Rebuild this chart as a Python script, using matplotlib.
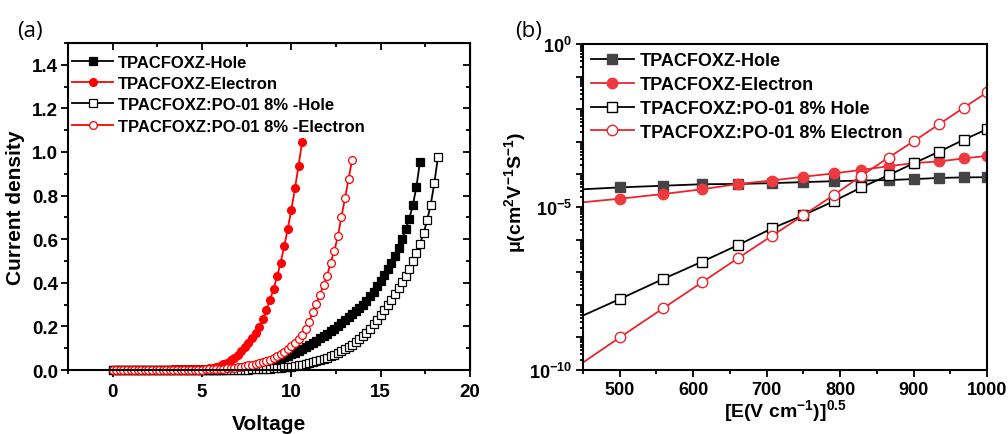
import numpy as np
import matplotlib
matplotlib.use("Agg")
import matplotlib.pyplot as plt
from matplotlib.font_manager import FontProperties
from matplotlib.ticker import MultipleLocator, LogLocator, FuncFormatter, NullFormatter

plt.rcParams['font.family'] = ['Liberation Sans', 'DejaVu Sans']
plt.rcParams['font.weight'] = 'bold'
plt.rcParams['axes.labelweight'] = 'bold'
plt.rcParams['mathtext.fontset'] = 'custom'
plt.rcParams['mathtext.rm'] = 'Liberation Sans:bold'
plt.rcParams['mathtext.it'] = 'Liberation Sans:bold'
plt.rcParams['mathtext.bf'] = 'Liberation Sans:bold'
plt.rcParams['mathtext.default'] = 'rm'

# ---------------- Panel (a) data: J-V curves (0.2 V sweep) ----------------
v_step = 0.2
j_hole = [0.002, 0.002, 0.002, 0.002, 0.002, 0.002, 0.002, 0.002, 0.002, 0.002,
          0.002, 0.002, 0.002, 0.002, 0.002, 0.002, 0.002, 0.002, 0.002, 0.002,
          0.002, 0.002, 0.002, 0.002, 0.002, 0.002, 0.002, 0.002, 0.002, 0.002,
          0.002, 0.002,
          0.003, 0.003, 0.004, 0.005, 0.007, 0.009, 0.011, 0.014, 0.017, 0.021,
          0.025, 0.030, 0.035, 0.040, 0.046, 0.052, 0.058, 0.065, 0.072, 0.080,
          0.088, 0.097, 0.106, 0.115, 0.125, 0.135, 0.145, 0.156, 0.167, 0.178,
          0.190, 0.202, 0.215, 0.228, 0.242, 0.256, 0.270, 0.285, 0.300, 0.318,
          0.338, 0.360, 0.385, 0.410, 0.436, 0.463, 0.492, 0.524, 0.560, 0.602,
          0.645, 0.694, 0.756, 0.841, 0.956]
j_elec = [0.002, 0.002, 0.002, 0.002, 0.002, 0.002, 0.002, 0.002, 0.002, 0.002,
          0.002, 0.002, 0.002, 0.002, 0.002, 0.002, 0.002,
          0.003, 0.003, 0.003, 0.003, 0.003, 0.003, 0.004, 0.004, 0.005, 0.006,
          0.008, 0.011, 0.015, 0.020, 0.026, 0.034, 0.044, 0.056, 0.070, 0.086,
          0.104, 0.124, 0.146, 0.171, 0.199, 0.232, 0.274, 0.320, 0.370, 0.430,
          0.493, 0.567, 0.648, 0.736, 0.833, 0.936, 1.045]
j_dhole = [0.002, 0.002, 0.002, 0.002, 0.002, 0.002, 0.002, 0.002, 0.002, 0.002,
           0.002, 0.002, 0.002, 0.002, 0.002, 0.002, 0.002, 0.002, 0.002, 0.002,
           0.002, 0.002, 0.002, 0.002, 0.002, 0.002, 0.002, 0.002, 0.002, 0.002,
           0.002, 0.002, 0.002, 0.002, 0.002, 0.002, 0.002, 0.002,
           0.002, 0.003, 0.003, 0.004, 0.004, 0.005, 0.006, 0.007, 0.009, 0.010,
           0.012, 0.014, 0.016, 0.018, 0.021, 0.024, 0.027, 0.031, 0.035, 0.040,
           0.045, 0.050, 0.056, 0.062, 0.069, 0.077, 0.086, 0.095, 0.105, 0.116,
           0.128, 0.141, 0.155, 0.170, 0.189, 0.209, 0.228, 0.251, 0.274, 0.297,
           0.322, 0.348, 0.374, 0.402, 0.431, 0.463, 0.500, 0.536, 0.579, 0.628,
           0.687, 0.759, 0.856, 0.975]
j_delec = [0.002, 0.002, 0.002, 0.002, 0.002, 0.002, 0.002, 0.002, 0.002, 0.002,
           0.002, 0.002, 0.002, 0.002, 0.002, 0.002, 0.002, 0.002, 0.002, 0.002,
           0.002, 0.002, 0.002, 0.002, 0.002, 0.002, 0.003, 0.003, 0.003, 0.004,
           0.005, 0.006, 0.007, 0.009, 0.011, 0.013, 0.015, 0.018, 0.021, 0.024,
           0.028, 0.032, 0.037, 0.042, 0.048, 0.055, 0.063, 0.072, 0.083, 0.095,
           0.108, 0.124, 0.140, 0.160, 0.188, 0.222, 0.266, 0.305, 0.345, 0.390,
           0.433, 0.493, 0.546, 0.613, 0.702, 0.787, 0.875, 0.965]

labels_a = ['TPACFOXZ-Hole', 'TPACFOXZ-Electron',
            'TPACFOXZ:PO-01 8% -Hole', 'TPACFOXZ:PO-01 8% -Electron']

# ---------------- Panel (b) data: mobility vs sqrt(E) ----------------
sqrt_e = [450, 500, 559, 612, 661, 707, 750, 791, 829, 866, 901, 935, 968, 1000]
mu_hole = [3.5e-5, 4.0e-5, 4.5e-5, 5.0e-5, 5.1e-5, 5.4e-5, 5.8e-5, 6.2e-5, 6.5e-5,
           6.7e-5, 7.2e-5, 7.8e-5, 8.1e-5, 8.2e-5]
mu_elec = [1.4e-5, 1.8e-5, 2.5e-5, 3.5e-5, 5.1e-5, 6.5e-5, 8.5e-5, 1.07e-4, 1.38e-4,
           1.78e-4, 2.24e-4, 2.5e-4, 3.1e-4, 3.7e-4]
mu_dhole = [4.7e-9, 1.5e-8, 6.2e-8, 2.1e-7, 6.8e-7, 2.2e-6, 5.6e-6, 1.5e-5, 4.0e-5,
            9.5e-5, 2.24e-4, 5.0e-4, 1.15e-3, 2.45e-3]
mu_delec = [1.7e-10, 1.0e-9, 7.8e-9, 4.9e-8, 2.7e-7, 1.3e-6, 5.6e-6, 2.3e-5, 9.1e-5,
            3.3e-4, 1.07e-3, 3.5e-3, 1.1e-2, 3.3e-2]
labels_b = ['TPACFOXZ-Hole', 'TPACFOXZ-Electron',
            'TPACFOXZ:PO-01 8% Hole', 'TPACFOXZ:PO-01 8% Electron']

RED = '#ff0000'
fig = plt.figure(figsize=(10.08, 4.35), dpi=100)

# ================= Panel (a) =================
ax1 = fig.add_axes([0.0675, 0.1471, 0.3988, 0.7518])
series_a = [j_hole, j_elec, j_dhole, j_delec]
styles_a = [dict(color='black', marker='s', mfc='black', mec='black'),
            dict(color=RED, marker='o', mfc=RED, mec=RED),
            dict(color='black', marker='s', mfc='white', mec='black'),
            dict(color=RED, marker='o', mfc='white', mec=RED)]
for j, st, lab in zip(series_a, styles_a, labels_a):
    v = np.round(np.arange(len(j)) * v_step, 1)
    ax1.plot(v, j, lw=1.3, ms=5.6, mew=0.9, label=lab, clip_on=False, **st)

ax1.set_xlim(-2.5, 20)
ax1.set_ylim(0, 1.5)
ax1.set_xticks([0, 5, 10, 15, 20])
ax1.xaxis.set_minor_locator(MultipleLocator(2.5))
ax1.set_yticks(np.arange(0, 1.41, 0.2))
ax1.yaxis.set_minor_locator(MultipleLocator(0.1))
ax1.yaxis.set_major_formatter(FuncFormatter(lambda y, p: f'{y:.1f}'))
ax1.tick_params(which='both', direction='out', width=1.3, labelsize=13.5,
                top=False, right=False)
ax1.tick_params(axis='y', pad=2)
ax1.tick_params(axis='x', pad=4)
ax1.tick_params(which='major', length=5)
ax1.tick_params(which='minor', length=3)
for s in ax1.spines.values():
    s.set_linewidth(1.5)
topx = ax1.secondary_xaxis('top')
topx.set_xticks([0, 5, 10, 15, 20])
topx.xaxis.set_minor_locator(MultipleLocator(2.5))
topx.tick_params(which='both', direction='in', labeltop=False, width=1.3)
topx.tick_params(which='major', length=5)
topx.tick_params(which='minor', length=3)
righty = ax1.secondary_yaxis('right')
righty.set_yticks(np.arange(0, 1.41, 0.2))
righty.yaxis.set_minor_locator(MultipleLocator(0.1))
righty.tick_params(which='both', direction='in', labelright=False, width=1.3)
righty.tick_params(which='major', length=5)
righty.tick_params(which='minor', length=3)
ax1.set_xlabel('Voltage', fontsize=15, fontweight='bold')
ax1.set_ylabel('Current density', fontsize=15, fontweight='bold')
ax1.xaxis.set_label_coords(0.5, -0.133)
ax1.yaxis.set_label_coords(-0.107, 0.5)
ax1.legend(loc='upper left', bbox_to_anchor=(-0.02, 1), frameon=False,
           prop=dict(size=12, weight='bold'),
           handlelength=2.5, handletextpad=0.3, labelspacing=0.38,
           borderaxespad=0.1, borderpad=0.6, markerscale=1.0)
fig.text(0.030, 0.928, '(a)', fontsize=16, fontweight='normal',
         family=['Open Sans', 'DejaVu Sans'], ha='center', va='center')

# ================= Panel (b) =================
ax2 = fig.add_axes([0.5784, 0.1471, 0.4008, 0.7494])
series_b = [mu_hole, mu_elec, mu_dhole, mu_delec]
styles_b = [dict(color='black', marker='s', mfc='#444444', mec='#444444'),
            dict(color='#e8262b', marker='o', mfc='#ee3a3e', mec='#ee3a3e'),
            dict(color='black', marker='s', mfc='white', mec='black'),
            dict(color='#e8262b', marker='o', mfc='white', mec='#e8262b')]
for mu, st, lab in zip(series_b, styles_b, labels_b):
    ax2.plot(sqrt_e, mu, lw=1.3, ms=7.5, mew=1.0, label=lab,
             markevery=list(range(1, len(sqrt_e))), **st)

ax2.set_yscale('log')
ax2.set_xlim(450, 1000)
ax2.set_ylim(1e-10, 1e0)
ax2.set_xticks([500, 600, 700, 800, 900, 1000])
ax2.xaxis.set_minor_locator(MultipleLocator(50))
ax2.yaxis.set_major_locator(LogLocator(base=10, numticks=20))
ax2.yaxis.set_minor_locator(LogLocator(base=10, subs=np.arange(2, 10), numticks=20))
ax2.yaxis.set_minor_formatter(NullFormatter())


def logfmt(y, p):
    e = int(round(np.log10(y)))
    if e % 5 == 0:
        return r'$\mathregular{10^{%d}}$' % e
    return ''


ax2.yaxis.set_major_formatter(FuncFormatter(logfmt))
ax2.tick_params(which='both', direction='out', width=1.3, labelsize=13,
                top=False, right=False, pad=3)
ax2.tick_params(axis='y', which='major', length=5)
ax2.tick_params(axis='y', which='minor', length=2.5)
ax2.tick_params(axis='x', which='major', length=5)
ax2.tick_params(axis='x', which='minor', length=3)
for s in ax2.spines.values():
    s.set_linewidth(1.5)
ax2.set_xlabel(r'[E(V cm$^{-1}$)]$^{0.5}$', fontsize=14, fontweight='bold')
ax2.xaxis.set_label_coords(0.5, -0.083)
ax2.set_ylabel('μ(cm$^{2}$V$^{-1}$S$^{-1}$)', fontsize=14, fontweight='bold')
ax2.yaxis.set_label_coords(-0.136, 0.546)
ax2.legend(loc='upper left', bbox_to_anchor=(0, 1), frameon=False,
           prop=dict(size=13, weight='bold'),
           handlelength=2.35, handletextpad=0.35, labelspacing=0.38,
           borderaxespad=0.1, borderpad=0.35)
fig.text(0.524, 0.928, '(b)', fontsize=16, fontweight='normal',
         family=['Open Sans', 'DejaVu Sans'], ha='center', va='center')

fig.canvas.draw()
fp_a = FontProperties(family='Liberation Sans', weight='bold', size=13.5)
fp_b = FontProperties(family='Liberation Sans', weight='bold', size=13)
for t in ax1.get_xticklabels() + ax1.get_yticklabels():
    t.set_fontproperties(fp_a)
for t in ax2.get_xticklabels():
    t.set_fontproperties(fp_b)

fig.savefig('out.png', dpi=100)
